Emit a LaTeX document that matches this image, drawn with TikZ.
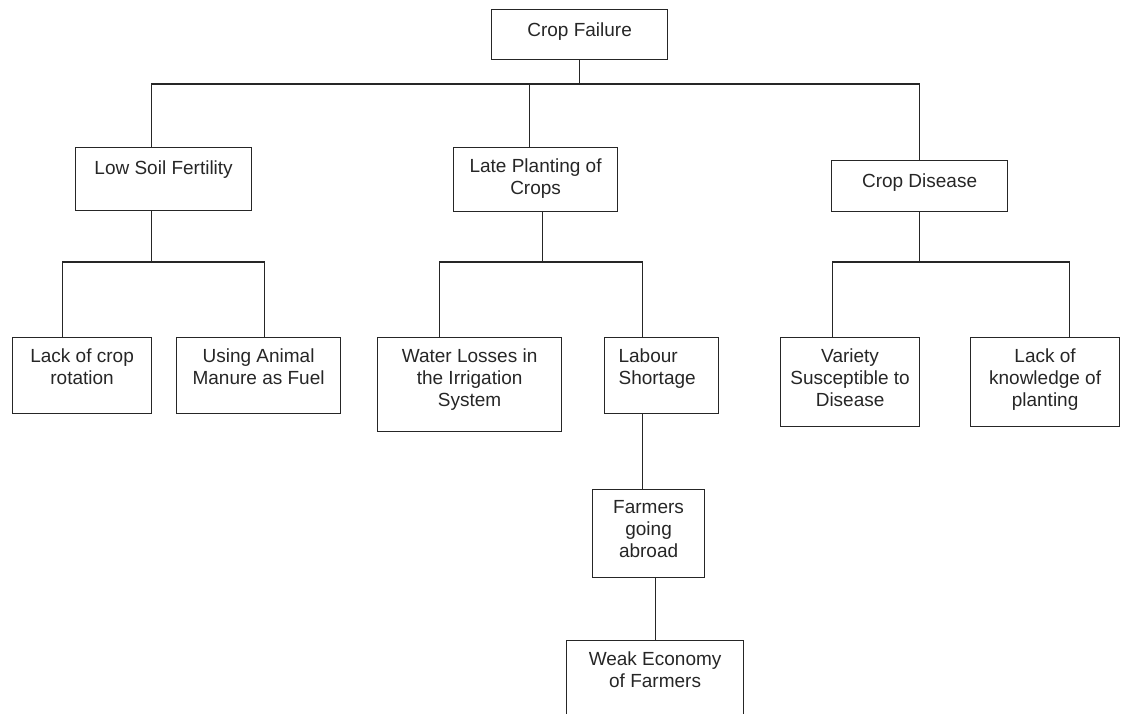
\documentclass[tikz,border=0pt]{standalone}
\usepackage{fontspec}
\setmainfont{Liberation Sans}
\begin{document}
\begin{tikzpicture}[x=1pt,y=-1pt,line width=1.2pt,
  b/.style 2 args={draw=black!85,anchor=north west,inner sep=0pt,minimum width=#1,minimum height=#2},
  t/.style={anchor=north,align=center,inner sep=0pt,text=black!85,font=\fontsize{19}{22}\selectfont,execute at begin node=\strut}]
\useasboundingbox (0,0) rectangle (1122,713);
\clip (0,0) rectangle (1122,713);
% boxes
\node[b={176}{50}] (cf) at (491,9) {};
\node[b={176}{63}] (lsf) at (75,147) {};
\node[b={164}{64}] (lpc) at (453,147) {};
\node[b={176}{51}] (cd) at (831,160) {};
\node[b={139}{76}] (lack) at (12,337) {};
\node[b={164}{76}] (use) at (176,337) {};
\node[b={184}{94}] (water) at (377,337) {};
\node[b={114}{76}] (lab) at (604,337) {};
\node[b={139}{89}] (var) at (780,337) {};
\node[b={149}{89}] (know) at (970,337) {};
\node[b={112}{88}] (farm) at (592,489) {};
\node[b={177}{100}] (weak) at (566,640) {};
% texts
\node[t] (cf-t) at ([yshift=-11]cf.north) {Crop Failure};
\node[t] (lsf-t) at ([yshift=-11]lsf.north) {Low Soil Fertility};
\node[t] (lpc-t) at ([yshift=-11]lpc.north) {Late Planting of\\Crops};
\node[t] (cd-t) at ([yshift=-11]cd.north) {Crop Disease};
\node[t] (lack-t) at ([yshift=-11]lack.north) {Lack of crop\\rotation};
\node[t] (use-t) at ([yshift=-11]use.north) {Using Animal\\Manure as Fuel};
\node[t] (water-t) at ([yshift=-11]water.north) {Water Losses in\\the Irrigation\\System};
\node[t,anchor=north west,align=left] (lab-t) at ([xshift=14,yshift=-11]lab.north west) {Labour\\Shortage};
\node[t] (var-t) at ([yshift=-11]var.north) {Variety\\Susceptible to\\Disease};
\node[t] (know-t) at ([yshift=-11]know.north) {Lack of\\knowledge of\\planting};
\node[t] (farm-t) at ([yshift=-11]farm.north) {Farmers\\going\\abroad};
\node[t] (weak-t) at ([yshift=-11]weak.north) {Weak Economy\\of Farmers};
% connectors
\draw[black!85] (cf.south) -- ++(0,25);
\draw[black!85] ([xshift=-12]lsf.north) -- ++(0,-63) -| (cd.north);
\draw[black!85] ([xshift=-6]lpc.north) -- ++(0,-63);
\draw[black!85] ([xshift=-12]lsf.south) -- ++(0,52);
\draw[black!85] ([xshift=-20]lack.north) -- ++(0,-75) -| ([xshift=6]use.north);
\draw[black!85] ([xshift=7]lpc.south) -- ++(0,51);
\draw[black!85] ([xshift=-30]water.north) -- ++(0,-75) -| ([xshift=-19]lab.north);
\draw[black!85] (cd.south) -- ++(0,51);
\draw[black!85] ([xshift=-18]var.north) -- ++(0,-75) -| ([xshift=24]know.north);
\draw[black!85] ([xshift=-19]lab.south) -- ([xshift=-6]farm.north);
\draw[black!85] ([xshift=7]farm.south) -- ([xshift=7]farm.south |- weak.north);
\end{tikzpicture}
\end{document}
